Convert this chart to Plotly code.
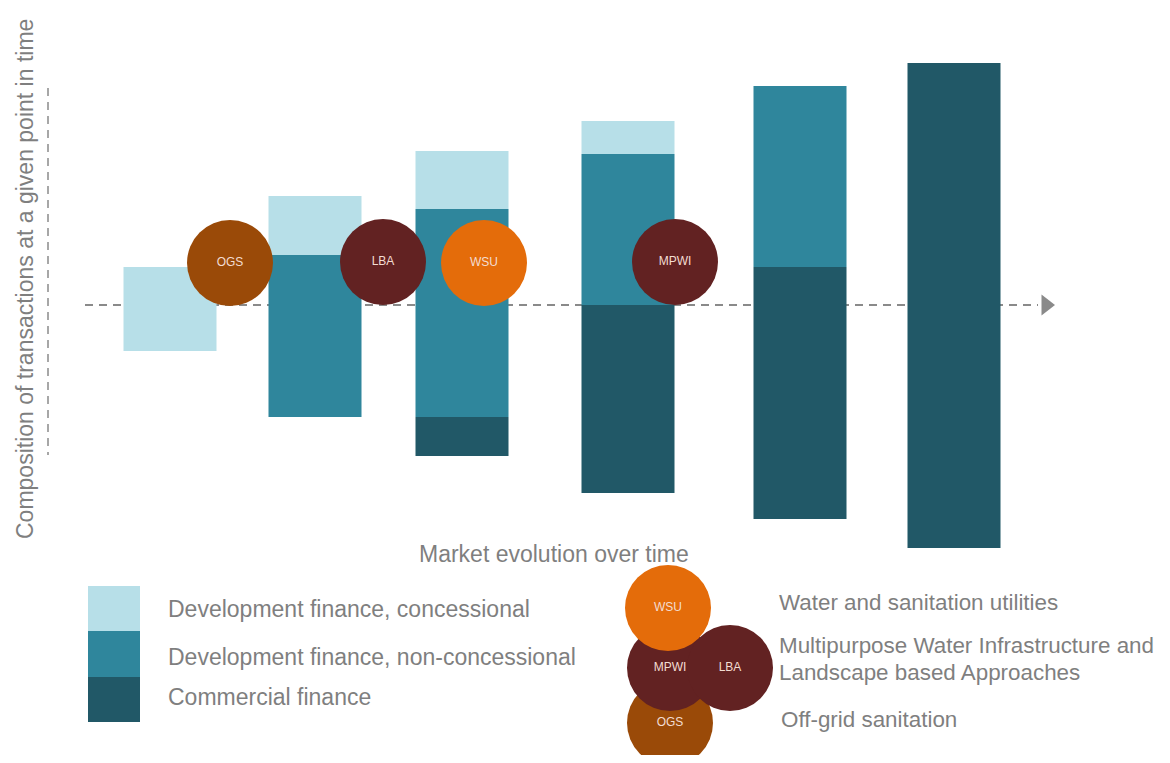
import plotly.graph_objects as go

# ---- data (vertical position relative to the market-evolution axis) ----
stages = ["Stage 1", "Stage 2", "Stage 3", "Stage 4", "Stage 5", "Stage 6"]
stage_time = [170, 315, 462, 628, 800, 954]

concessional_low = [-46, 50, 96, 151, None, None]
concessional_high = [38, 109, 154, 184, None, None]
nonconcessional_low = [None, -112, -112, 0, 38, None]
nonconcessional_high = [None, 50, 96, 151, 219, None]
commercial_low = [None, None, -151, -188, -214, -243]
commercial_high = [None, None, -112, 0, 38, 242]

segments = ["OGS", "LBA", "WSU", "MPWI"]
segment_time = [230, 383, 484, 675]
segment_level = [42, 43, 42, 43]

series_names = ["Development finance, concessional",
                "Development finance, non-concessional",
                "Commercial finance"]
segment_names = ["Water and sanitation utilities",
                 "Multipurpose Water Infrastructure and",
                 "Landscape based Approaches",
                 "Off-grid sanitation"]

# ---- styles ----
C_LIGHT = "#b7dfe8"
C_MID = "#2f869c"
C_DARK = "#215867"
SEG_COL = {"OGS": "#9a4a08", "LBA": "#622222", "MPWI": "#622222", "WSU": "#e46c0a"}
GREY = "#7f7f7f"
FONT = "Liberation Sans, Arial, sans-serif"
FS = 23

fig = go.Figure()


def add_series(low, high, color, name):
    xs, ys, bs = [], [], []
    for t, lo, hi in zip(stage_time, low, high):
        if lo is None or hi is None:
            continue
        xs.append(t)
        ys.append(hi - lo)
        bs.append(lo)
    fig.add_trace(go.Bar(x=xs, y=ys, base=bs, width=93, name=name,
                         marker=dict(color=color, line=dict(width=0)),
                         showlegend=False, hoverinfo="skip"))


add_series(concessional_low, concessional_high, C_LIGHT, series_names[0])
add_series(nonconcessional_low, nonconcessional_high, C_MID, series_names[1])
add_series(commercial_low, commercial_high, C_DARK, series_names[2])

# segment circles on the chart
fig.add_trace(go.Scatter(
    x=segment_time, y=segment_level, mode="markers+text", text=segments,
    textposition="middle center",
    textfont=dict(family=FONT, size=12, color="#f3ddd2"),
    marker=dict(size=86, color=[SEG_COL[s] for s in segments], line=dict(width=0)),
    showlegend=False, hoverinfo="skip", cliponaxis=False))

# axis arrow head
fig.add_trace(go.Scatter(x=[1046], y=[0], mode="markers",
                         marker=dict(symbol="triangle-right", size=18, color="#8a8a8a"),
                         showlegend=False, hoverinfo="skip"))

# dashed axes
fig.add_shape(type="line", x0=85, x1=1038, y0=0, y1=0, layer="below",
              line=dict(color="#8a8a8a", width=2, dash="8px,6px"))
fig.add_shape(type="line", x0=48, x1=48, y0=217, y1=-150, layer="below",
              line=dict(color="#8a8a8a", width=1.5, dash="8px,6px"))

# axis titles
fig.add_annotation(x=25, y=26, text="Composition of transactions at a given point in time",
                   textangle=-90, showarrow=False,
                   font=dict(family=FONT, size=FS, color=GREY))
fig.add_annotation(x=554, y=-249, text="Market evolution over time", showarrow=False,
                   font=dict(family=FONT, size=FS, color=GREY))

# ---- legend: finance types ----
leg_cols = [C_LIGHT, C_MID, C_DARK]
leg_tops = [586, 631, 677]
leg_bots = [631, 677, 722]
leg_text_y = [609, 657, 697]
for col, t, b, ty, nm in zip(leg_cols, leg_tops, leg_bots, leg_text_y, series_names):
    fig.add_shape(type="rect", x0=88, x1=140, y0=305 - t, y1=305 - b,
                  fillcolor=col, line=dict(width=0))
    fig.add_annotation(x=166, y=305 - ty, text=nm, xanchor="left", showarrow=False,
                       font=dict(family=FONT, size=FS, color=GREY))

# ---- legend: segments ----
leg_seg = ["OGS", "MPWI", "LBA", "WSU"]
leg_seg_x = [670, 670, 730, 668]
leg_seg_y = [305 - 723, 305 - 668, 305 - 668, 305 - 608]
fig.add_trace(go.Scatter(
    x=leg_seg_x, y=leg_seg_y, mode="markers+text", text=leg_seg,
    textposition="middle center",
    textfont=dict(family=FONT, size=12, color="#f3ddd2"),
    marker=dict(size=86, color=[SEG_COL[s] for s in leg_seg], line=dict(width=0)),
    showlegend=False, hoverinfo="skip", cliponaxis=False))

seg_text_x = [777, 777, 777, 779]
seg_text_y = [602, 645, 672, 719]
for tx, ty, nm in zip(seg_text_x, seg_text_y, segment_names):
    fig.add_annotation(x=tx, y=305 - ty, text=nm, xanchor="left", align="left",
                       showarrow=False, font=dict(family=FONT, size=22.4, color=GREY))

# page body has an 8px margin: size the figure to fit and offset the ranges
fig.update_layout(
    width=1154, height=747, margin=dict(l=0, r=0, t=0, b=0),
    paper_bgcolor="white", plot_bgcolor="white", barmode="overlay",
    xaxis=dict(range=[8, 1162], visible=False, fixedrange=True),
    yaxis=dict(range=[-450, 297], visible=False, fixedrange=True),
    showlegend=False,
)

fig.write_html("out.html")
